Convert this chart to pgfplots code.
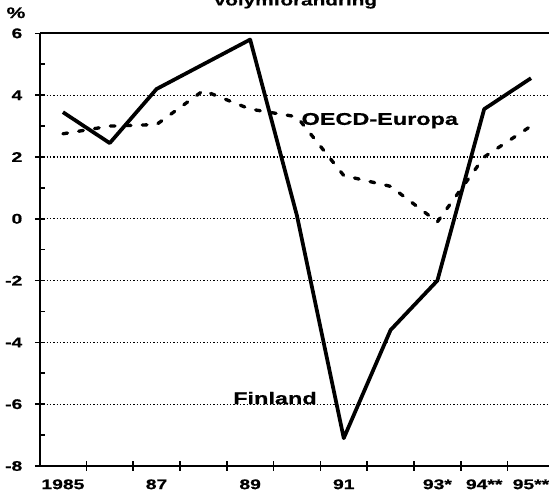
\documentclass[border=0pt]{standalone}
\usepackage{fontspec}
\setmainfont{Liberation Sans}[FakeStretch=1.38, BoldFeatures={FakeBold=0.6}]
\usepackage{pgfplots}
\pgfplotsset{compat=1.18}
\begin{document}
\begin{tikzpicture}
\begin{axis}[
 scale only axis, width=381.75pt, height=324.45pt,
 xmin=-0.49, xmax=10.385, ymin=-8, ymax=6,
 axis x line*=bottom, axis y line*=left,
 axis line style={line width=1.5pt},
 xtick={0.5,1.5,...,9.5}, xticklabels={},
 extra x ticks={0,2,4,6,8,9,10},
 extra x tick labels={1985,87,89,91,93*,94**,95**},
 extra x tick style={major tick length=0pt, tick label style={yshift=-6.5pt}},
 ytick={-8,-6,...,6}, minor y tick num=1,
 tick align=center, major tick length=7.5pt, minor tick length=3.75pt,
 minor tick style={xshift=1.875pt},
 tick style={line width=1.2pt, black},
 ymajorgrids, grid style={black, line width=0.9pt, dash pattern=on 0.9pt off 1.6pt},
 tick label style={font=\fontsize{10.5}{11}\selectfont\bfseries},
 yticklabel style={xshift=-6pt},
 /pgf/number format/assume math mode=true,
 clip=false,
]
\addplot[black, line width=2.8pt, line join=round] coordinates {
(0,3.45) (1,2.45) (2,4.2) (3,5.0) (4,5.8) (5,0.1) (6,-7.1) (7,-3.6) (8,-2.0) (9,3.55) (10,4.55)};
\addplot[black, line width=2.5pt, line cap=round, dash pattern=on 3.5pt off 8.5pt] coordinates {
(0,2.75) (1,3.0) (2,3.05) (3,4.15) (4,3.55) (5,3.3) (6,1.4) (7,1.05) (8,-0.1) (9,2.0) (10,3.0)};
\node[anchor=base, font=\fontsize{12.75}{13}\selectfont\bfseries] at (axis cs:4.53,-6) {Finland};
\node[anchor=base, font=\fontsize{12.75}{13}\selectfont\bfseries] at (axis cs:6.77,3.04) {OECD-Europa};
\draw[line width=1.5pt] (rel axis cs:0,1) -- (rel axis cs:1,1);
\end{axis}
\pgfresetboundingbox
\path[use as bounding box] ([xshift=-30pt,yshift=-21.75pt]current axis.south west) rectangle ([yshift=25.05pt]current axis.north east);
\node[overlay, anchor=base, font=\fontsize{11.25}{12}\selectfont\bfseries] at ([xshift=191.25pt, yshift=21pt]current axis.north west) {Volymförändring};
\node[overlay, anchor=base, font=\fontsize{11.5}{12}\selectfont\bfseries] at ([xshift=-18pt, yshift=11.5pt]current axis.north west) {\%};
\end{tikzpicture}
\end{document}
